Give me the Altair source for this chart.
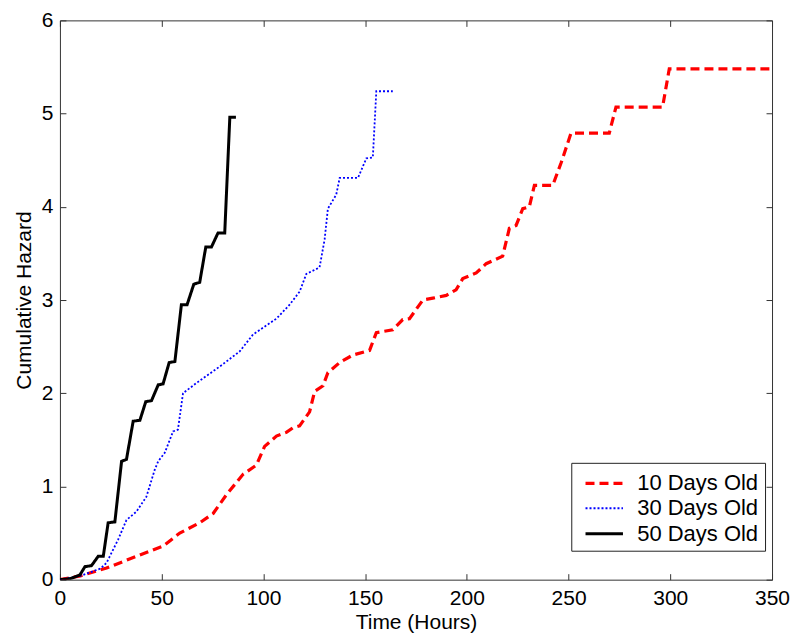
import altair as alt
import pandas as pd

series_names = ["10 Days Old", "30 Days Old", "50 Days Old"]

x10 = [0, 10, 22.9, 37.6, 50.7, 58.9, 68.7, 75.3, 81.8, 90, 96.6, 100.6, 106.4, 111.3, 114.5, 117.8,
       122.7, 125.2, 129.3, 131.7, 137.5, 144, 152.2, 155.5, 163.6, 168.5, 171.8, 178.4, 183.3, 189.9,
       194.7, 198, 204.6, 209.5, 217.6, 220.9, 224.2, 227.5, 230.7, 233.2, 242.2, 246.3, 251.2, 270,
       273.3, 296.2, 299.5, 350]
y10 = [0, 0.04, 0.125, 0.25, 0.36, 0.50, 0.61, 0.71, 0.91, 1.13, 1.23, 1.43, 1.54, 1.58, 1.63, 1.65,
       1.80, 2.02, 2.08, 2.22, 2.33, 2.41, 2.46, 2.65, 2.68, 2.79, 2.80, 3.0, 3.02, 3.05,
       3.11, 3.23, 3.29, 3.39, 3.47, 3.77, 3.80, 3.98, 4.0, 4.23, 4.23, 4.47, 4.79, 4.79,
       5.07, 5.07, 5.48, 5.48]

x30 = [0, 10, 20, 22.9, 24.5, 28.6, 32.7, 37.6, 42.5, 46.6, 48.3, 51.5, 55.6, 58, 60.5, 67.1, 73.6,
       79.4, 88.4, 94.9, 106.4, 112.9, 117.8, 121.1, 127.6, 130.1, 131.7, 135.8, 137.5, 146.5, 150.6,
       153.8, 155.5, 163.6]
y30 = [0, 0.04, 0.12, 0.18, 0.25, 0.43, 0.64, 0.73, 0.89, 1.18, 1.27, 1.36, 1.59, 1.61, 2.0, 2.11, 2.21,
       2.30, 2.45, 2.63, 2.80, 2.95, 3.09, 3.28, 3.35, 3.65, 3.98, 4.13, 4.31, 4.31, 4.52,
       4.53, 5.24, 5.24]

x50 = [0, 5, 9.8, 12.3, 15.5, 18.8, 21.3, 23.7, 27, 30.3, 32.7, 36, 39.3, 42.2, 45, 48.3, 50.7, 53.7,
       56.5, 59.7, 62.5, 65.8, 68.7, 71.7, 74.5, 77.7, 81, 83.5, 86.5]
y50 = [0, 0.01, 0.05, 0.14, 0.15, 0.25, 0.25, 0.61, 0.62, 1.27, 1.29, 1.70, 1.71, 1.91, 1.92, 2.09, 2.10, 2.33,
       2.34, 2.95, 2.95, 3.17, 3.19, 3.57, 3.57, 3.72, 3.72, 4.96, 4.96]

x_ticks = [0, 50, 100, 150, 200, 250, 300, 350]
y_ticks = [0, 1, 2, 3, 4, 5, 6]

rows = []
for name, xs, ys in zip(series_names, [x10, x30, x50], [y10, y30, y50]):
    for i, (a, b) in enumerate(zip(xs, ys)):
        rows.append({"series": name, "x": a, "y": b, "idx": i})
df = pd.DataFrame(rows)

W, H = 713, 560
FONT = "Liberation Sans"
FS = 21
xs_scale = alt.Scale(domain=[0, 350], nice=False, zero=False)
ys_scale = alt.Scale(domain=[0, 6], nice=False, zero=False)

legend = alt.Legend(
    title=None, orient="none", legendX=512, legendY=443,
    strokeColor="#222222", fillColor="white", padding=6, cornerRadius=0,
    labelFont=FONT, labelFontSize=22, labelColor="black",
    symbolType="M-0.5,0H2.5", symbolSize=625, rowPadding=-1, labelOffset=31,
)

lines = alt.Chart(df).mark_line(clip=True).encode(
    x=alt.X("x:Q", scale=xs_scale, axis=alt.Axis(
        orient="bottom", values=x_ticks, ticks=False, domain=False, grid=False,
        labelFlush=False, labelOverlap=False,
        title="Time (Hours)", labelPadding=8, titlePadding=3,
        labelFont=FONT, labelFontSize=FS, labelColor="black",
        titleFont=FONT, titleFontSize=FS, titleFontWeight="normal", titleColor="black")),
    y=alt.Y("y:Q", scale=ys_scale, axis=alt.Axis(
        orient="left", values=y_ticks, ticks=False, domain=False, grid=False,
        labelFlush=False, labelOverlap=False,
        title="Cumulative Hazard", labelPadding=7, titlePadding=7,
        labelFont=FONT, labelFontSize=FS, labelColor="black",
        titleFont=FONT, titleFontSize=FS, titleFontWeight="normal", titleColor="black")),
    color=alt.Color("series:N", sort=series_names,
                    scale=alt.Scale(domain=series_names, range=["#ff0000", "#0000ff", "#000000"]),
                    legend=legend),
    strokeDash=alt.StrokeDash("series:N", sort=series_names,
                              scale=alt.Scale(domain=series_names, range=[[9, 5], [2, 2], [1, 0]]),
                              legend=legend),
    strokeWidth=alt.StrokeWidth("series:N", sort=series_names,
                                scale=alt.Scale(type="ordinal", domain=series_names, range=[3.2, 1.8, 3]),
                                legend=legend),
    order="idx:Q",
)

ghost = alt.Chart(df).mark_point(opacity=0)

ticks_a = ghost.encode(
    x=alt.X("x:Q", scale=xs_scale, axis=alt.Axis(
        orient="top", offset=-H, values=x_ticks, labels=False, domain=False, grid=False,
        ticks=True, tickSize=6, tickColor="#333333", title=None)),
    y=alt.Y("y:Q", scale=ys_scale, axis=alt.Axis(
        orient="right", offset=-W, values=y_ticks, labels=False, domain=False, grid=False,
        ticks=True, tickSize=6, tickColor="#333333", title=None)),
)
ticks_b = ghost.encode(
    x=alt.X("x:Q", scale=xs_scale, axis=alt.Axis(
        orient="bottom", offset=-H, values=x_ticks, labels=False, domain=False, grid=False,
        ticks=True, tickSize=6, tickColor="#333333", title=None)),
    y=alt.Y("y:Q", scale=ys_scale, axis=alt.Axis(
        orient="left", offset=-W, values=y_ticks, labels=False, domain=False, grid=False,
        ticks=True, tickSize=6, tickColor="#333333", title=None)),
)

chart = alt.layer(lines, ticks_a, ticks_b).resolve_axis(
    x="independent", y="independent"
).properties(
    width=W, height=H,
    background="white",
    autosize=alt.AutoSizeParams(type="none"),
    padding={"left": 52, "top": 12, "right": 20, "bottom": 55},
).configure_view(
    stroke="#333333", strokeWidth=1
)

chart.save("out.html", embed_options={"renderer": "svg", "actions": False})
